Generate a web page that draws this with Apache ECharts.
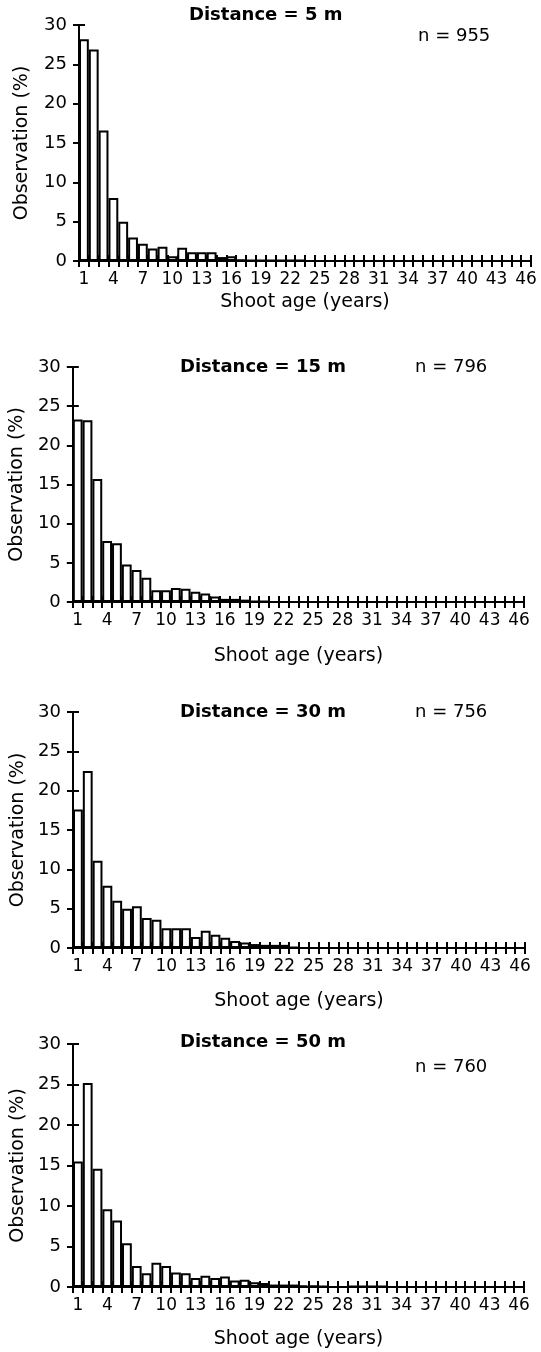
<!DOCTYPE html>
<html><head><meta charset="utf-8">
<script src="https://cdn.jsdelivr.net/npm/echarts@6/dist/echarts.min.js"></script>
<style>html,body{margin:0;padding:0;background:#fff}#c{width:541px;height:1352px}</style>
</head><body><div id="c"></div>
<script>
const ages = ['1','2','3','4','5','6','7','8','9','10','11','12','13','14','15','16','17','18','19','20','21','22','23','24','25','26','27','28','29','30','31','32','33','34','35','36','37','38','39','40','41','42','43','44','45','46'];
const yTicks = [0, 5, 10, 15, 20, 25, 30];
const dist5 = [28.2, 26.9, 16.6, 8.0, 5.0, 3.0, 2.2, 1.6, 1.8, 0.6, 1.7, 1.1, 1.1, 1.1, 0.5, 0.6, 0.2, 0.1, 0.1, 0.1, 0.1, 0.1, 0.1, 0, 0, 0, 0, 0, 0, 0, 0, 0, 0, 0, 0, 0, 0, 0, 0, 0, 0, 0, 0, 0, 0, 0];
const dist15 = [23.3, 23.2, 15.7, 7.8, 7.5, 4.8, 4.1, 3.1, 1.5, 1.5, 1.8, 1.7, 1.3, 1.1, 0.7, 0.4, 0.4, 0.3, 0.1, 0.1, 0, 0, 0, 0, 0, 0, 0, 0, 0, 0, 0, 0, 0, 0, 0, 0, 0, 0, 0, 0, 0, 0, 0, 0, 0, 0];
const dist30 = [17.6, 22.5, 11.1, 7.9, 6.0, 5.0, 5.3, 3.8, 3.6, 2.5, 2.5, 2.5, 1.4, 2.2, 1.7, 1.3, 0.9, 0.7, 0.5, 0.4, 0.4, 0.4, 0.1, 0, 0, 0, 0, 0, 0, 0, 0, 0, 0, 0, 0, 0, 0, 0, 0, 0, 0, 0, 0, 0, 0, 0];
const dist50 = [15.5, 25.2, 14.6, 9.6, 8.2, 5.4, 2.6, 1.7, 3.0, 2.6, 1.8, 1.7, 1.1, 1.4, 1.1, 1.3, 0.8, 0.9, 0.6, 0.5, 0.3, 0.3, 0.3, 0.2, 0.2, 0.1, 0, 0, 0.1, 0.1, 0.1, 0.1, 0, 0, 0, 0, 0, 0, 0, 0, 0, 0, 0, 0, 0, 0];
const panelTitles = ['Distance = 5 m', 'Distance = 15 m', 'Distance = 30 m', 'Distance = 50 m'];
const sampleSizes = ['n = 955', 'n = 796', 'n = 756', 'n = 760'];
const xName = 'Shoot age (years)';
const yName = 'Observation (%)';

const seriesData = [dist5, dist15, dist30, dist50];
const layout = [
  {left: 79, top: 25, width: 452, height: 236, xGap: 32, yGap: 47, tX: 189, tY: 6, nX: 418, nY: 27},
  {left: 72, top: 367, width: 452, height: 235, xGap: 45, yGap: 45, tX: 180, tY: 358, nX: 415, nY: 358},
  {left: 73, top: 712, width: 452, height: 236, xGap: 44, yGap: 45, tX: 180, tY: 703, nX: 415, nY: 703},
  {left: 73, top: 1044, width: 451, height: 243, xGap: 43, yGap: 45, tX: 180, tY: 1033, nX: 415, nY: 1058}
];
const FONT = 'DejaVu Sans';
const black = '#000';

const grid = [], xAxis = [], yAxis = [], series = [], title = [];
layout.forEach((p, i) => {
  grid.push({left: p.left, top: p.top, width: p.width, height: p.height, containLabel: false});
  xAxis.push({
    gridIndex: i, type: 'category', data: ages, boundaryGap: true, position: 'bottom',
    axisLine: {show: true, lineStyle: {color: black, width: 2}},
    axisTick: {show: true, interval: 0, length: 6, lineStyle: {color: black, width: 2}},
    axisLabel: {interval: 2, margin: 10, fontSize: 17, color: black, fontFamily: FONT},
    name: xName, nameLocation: 'middle', nameGap: p.xGap,
    nameTextStyle: {fontSize: 19, color: black, fontFamily: FONT},
    splitLine: {show: false}
  });
  xAxis.push({
    gridIndex: i, type: 'category', data: ages, boundaryGap: true, position: 'bottom',
    axisLine: {show: false},
    axisTick: {show: true, inside: true, interval: 0, length: 6, lineStyle: {color: black, width: 2}},
    axisLabel: {show: false}, splitLine: {show: false}
  });
  yAxis.push({
    gridIndex: i, type: 'value', min: yTicks[0], max: yTicks[yTicks.length - 1], interval: yTicks[1] - yTicks[0],
    axisLine: {show: true, lineStyle: {color: black, width: 2}},
    axisTick: {show: true, length: 6, lineStyle: {color: black, width: 2}},
    axisLabel: {margin: 12, fontSize: 18, color: black, fontFamily: FONT},
    splitLine: {show: false},
    name: yName, nameLocation: 'middle', nameGap: p.yGap, nameRotate: 90,
    nameTextStyle: {fontSize: 19, color: black, fontFamily: FONT}
  });
  yAxis.push({
    gridIndex: i, type: 'value', min: yTicks[0], max: yTicks[yTicks.length - 1], interval: yTicks[1] - yTicks[0],
    position: 'left',
    axisLine: {show: false},
    axisTick: {show: true, inside: true, length: 6, lineStyle: {color: black, width: 2}},
    axisLabel: {show: false}, splitLine: {show: false}
  });
  series.push({
    type: 'bar', xAxisIndex: 2 * i, yAxisIndex: 2 * i, data: seriesData[i],
    barCategoryGap: '0%', barGap: '0%',
    itemStyle: {color: '#fff', borderColor: black, borderWidth: 2},
    silent: true, animation: false
  });
  title.push({text: panelTitles[i], left: p.tX, top: p.tY, padding: 0,
    textStyle: {fontSize: 18, fontWeight: 'bold', color: black, fontFamily: FONT}});
  title.push({text: sampleSizes[i], left: p.nX, top: p.nY, padding: 0,
    textStyle: {fontSize: 18, fontWeight: 'normal', color: black, fontFamily: FONT}});
});

const chart = echarts.init(document.getElementById('c'), null, {renderer: 'canvas'});
chart.setOption({animation: false, backgroundColor: '#fff', title, grid, xAxis, yAxis, series});
</script>
</body></html>
